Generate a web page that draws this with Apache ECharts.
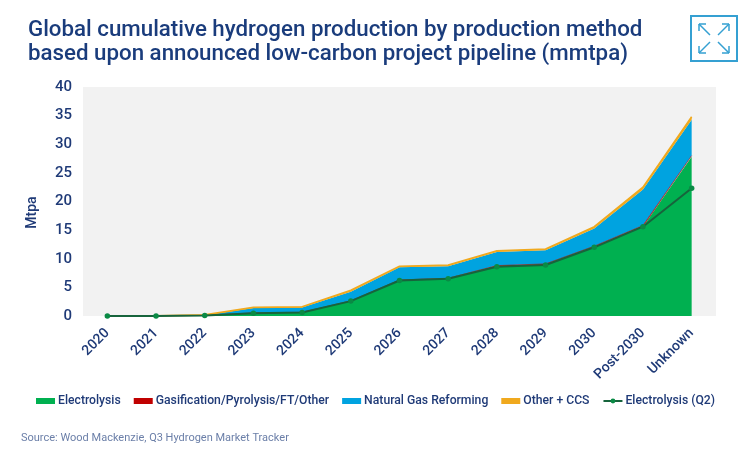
<!DOCTYPE html>
<html>
<head>
    <meta charset="UTF-8">
    <title>Global cumulative hydrogen production</title>
    <script src="https://cdn.jsdelivr.net/npm/echarts@6/dist/echarts.min.js"></script>
</head>
<body style="margin:0;background:#fff;">
<div id="chart" style="width:750px;height:452px;"></div>
<script>
    var categories = ['2020', '2021', '2022', '2023', '2024', '2025', '2026', '2027', '2028', '2029', '2030', 'Post-2030', 'Unknown'];
    var electrolysis = [0, 0.02, 0.1, 0.5, 0.6, 2.6, 6.2, 6.5, 8.6, 8.9, 12, 15.6, 27.8];
    var gasification = [0, 0, 0, 0.05, 0.05, 0.05, 0.1, 0.1, 0.2, 0.2, 0.2, 0.2, 0.2];
    var naturalGas = [0, 0, 0.05, 0.85, 0.85, 1.6, 2.2, 2.1, 2.4, 2.4, 3.1, 6.3, 6.3];
    var otherCcs = [0, 0, 0.05, 0.1, 0.1, 0.25, 0.2, 0.2, 0.2, 0.2, 0.3, 0.4, 0.5];
    var electrolysisQ2 = [0, 0.02, 0.1, 0.5, 0.6, 2.6, 6.2, 6.5, 8.6, 8.9, 12, 15.6, 22.3];

    var navy = '#1f3a77';

    function areaSeries(name, data, color, width) {
        return {
            name: name,
            type: 'line',
            stack: 'total',
            data: data,
            symbol: 'none',
            itemStyle: {color: color},
            lineStyle: {color: color, width: width},
            areaStyle: {color: color, opacity: 1}
        };
    }

    function iconLine(x1, y1, x2, y2) {
        return {
            type: 'line',
            shape: {x1: x1, y1: y1, x2: x2, y2: y2},
            style: {stroke: '#35a0d2', lineWidth: 1.5}
        };
    }

    // expand icon, top right corner
    var iconParts = [
        {type: 'rect', shape: {x: 691, y: 16, width: 46, height: 45}, style: {fill: 'none', stroke: '#35a0d2', lineWidth: 2}}
    ];
    [[699, 24, 710, 35, 1, 1], [729, 24, 718, 35, -1, 1], [699, 53, 710, 42, 1, -1], [729, 53, 718, 42, -1, -1]].forEach(function (a) {
        iconParts.push(iconLine(a[0], a[1], a[2], a[3]));
        iconParts.push(iconLine(a[0], a[1], a[0] + a[4] * 7, a[1]));
        iconParts.push(iconLine(a[0], a[1], a[0], a[1] + a[5] * 7));
    });

    var chart = echarts.init(document.getElementById('chart'));
    chart.setOption({
        animation: false,
        backgroundColor: '#fff',
        textStyle: {fontFamily: 'Roboto'},
        title: [{
            text: 'Global cumulative hydrogen production by production method\nbased upon announced low-carbon project pipeline (mmtpa)',
            left: 23,
            top: 13,
            textStyle: {color: '#1a3c7c', fontSize: 22.3, fontWeight: 500, lineHeight: 24, fontFamily: 'Roboto'}
        }, {
            text: 'Source: Wood Mackenzie, Q3 Hydrogen Market Tracker',
            left: 16,
            top: 428,
            textStyle: {color: '#6b7fa8', fontSize: 11, fontWeight: 400, fontFamily: 'Roboto'}
        }],
        legend: {
            left: 31,
            top: 390,
            itemWidth: 19,
            itemHeight: 6,
            itemGap: 13,
            textStyle: {color: navy, fontSize: 12.2, fontWeight: 500, fontFamily: 'Roboto', padding: [0, 0, 0, -2]},
            data: [
                {name: 'Electrolysis', icon: 'rect'},
                {name: 'Gasification/Pyrolysis/FT/Other', icon: 'rect'},
                {name: 'Natural Gas Reforming', icon: 'rect'},
                {name: 'Other + CCS', icon: 'rect'},
                {name: 'Electrolysis (Q2)'}
            ]
        },
        grid: {
            left: 83,
            right: 34,
            top: 87,
            bottom: 136,
            show: true,
            backgroundColor: '#f2f2f2',
            borderWidth: 0
        },
        xAxis: {
            type: 'category',
            data: categories,
            boundaryGap: true,
            axisLine: {show: false},
            axisTick: {show: false},
            axisLabel: {color: navy, fontSize: 14, fontWeight: 500, rotate: 45, margin: 15, interval: 0}
        },
        yAxis: {
            type: 'value',
            name: 'Mtpa',
            nameLocation: 'middle',
            nameGap: 44,
            nameMoveOverlap: false,
            nameTextStyle: {color: navy, fontSize: 14, fontWeight: 500, padding: [0, 22, 0, 0]},
            min: 0,
            max: 40,
            interval: 5,
            axisLine: {show: false},
            axisTick: {show: false},
            splitLine: {show: false},
            axisLabel: {color: navy, fontSize: 15, fontWeight: 500, margin: 11, padding: [2, 0, 0, 0]}
        },
        series: [
            areaSeries('Electrolysis', electrolysis, '#00b050', 0),
            areaSeries('Gasification/Pyrolysis/FT/Other', gasification, '#c00000', 0.6),
            areaSeries('Natural Gas Reforming', naturalGas, '#00a3e0', 0),
            areaSeries('Other + CCS', otherCcs, '#f0a91e', 1.6),
            {
                name: 'Electrolysis (Q2)',
                type: 'line',
                data: electrolysisQ2,
                symbol: 'circle',
                symbolSize: 5.5,
                itemStyle: {color: '#0a8a45'},
                lineStyle: {color: '#17643c', width: 2},
                z: 5
            }
        ],
        graphic: iconParts
    });
</script>
</body>
</html>
